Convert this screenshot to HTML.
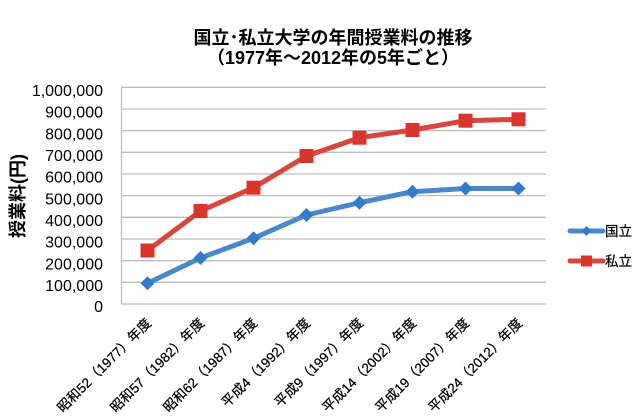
<!DOCTYPE html>
<html>
<head>
<meta charset="utf-8">
<style>
  html,body{margin:0;padding:0;background:#fff;}
  body{width:640px;height:420px;overflow:hidden;}
  svg{display:block;}
  text{font-family:"Liberation Sans","Noto Sans CJK JP",sans-serif;fill:#000;}
</style>
</head>
<body>
<svg width="640" height="420" viewBox="0 0 640 420" xmlns="http://www.w3.org/2000/svg">
  <rect x="0" y="0" width="640" height="420" fill="#fff"/>

  <!-- Title -->
  <text x="333" y="44" font-size="18" font-weight="bold" text-anchor="middle">国立･私立大学の年間授業料の推移</text>
  <text x="333" y="64" font-size="18" font-weight="bold" text-anchor="middle">（1977年～2012年の5年ごと）</text>

  <!-- Gridlines -->
  <g stroke="#bdbdbd" stroke-width="1.3">
    <line x1="121" y1="87.3" x2="546" y2="87.3"/>
    <line x1="121" y1="109" x2="546" y2="109"/>
    <line x1="121" y1="130.6" x2="546" y2="130.6"/>
    <line x1="121" y1="152.3" x2="546" y2="152.3"/>
    <line x1="121" y1="174" x2="546" y2="174"/>
    <line x1="121" y1="195.6" x2="546" y2="195.6"/>
    <line x1="121" y1="217.3" x2="546" y2="217.3"/>
    <line x1="121" y1="239" x2="546" y2="239"/>
    <line x1="121" y1="260.7" x2="546" y2="260.7"/>
    <line x1="121" y1="282.3" x2="546" y2="282.3"/>
    <line x1="121" y1="304" x2="546" y2="304"/>
    <line x1="121.5" y1="87.3" x2="121.5" y2="304"/>
  </g>

  <!-- Y labels -->
  <g font-size="16" text-anchor="end">
    <text x="103" y="96">1,000,000</text>
    <text x="103" y="117.7">900,000</text>
    <text x="103" y="139.3">800,000</text>
    <text x="103" y="161">700,000</text>
    <text x="103" y="182.7">600,000</text>
    <text x="103" y="204.3">500,000</text>
    <text x="103" y="226">400,000</text>
    <text x="103" y="247.7">300,000</text>
    <text x="103" y="269.4">200,000</text>
    <text x="103" y="291">100,000</text>
    <text x="103" y="312.2">0</text>
  </g>

  <!-- Y axis title -->
  <text transform="translate(24,196) rotate(-90)" font-size="18" font-weight="bold" text-anchor="middle">授業料(円)</text>

  <!-- X labels -->
  <g font-size="13.5" text-anchor="end" stroke="#000" stroke-width="0.25">
    <text transform="translate(152,324) rotate(-45)">昭和52（1977）年度</text>
    <text transform="translate(205,324) rotate(-45)">昭和57（1982）年度</text>
    <text transform="translate(258,324) rotate(-45)">昭和62（1987）年度</text>
    <text transform="translate(311,324) rotate(-45)">平成4（1992）年度</text>
    <text transform="translate(364,324) rotate(-45)">平成9（1997）年度</text>
    <text transform="translate(417,324) rotate(-45)">平成14（2002）年度</text>
    <text transform="translate(470,324) rotate(-45)">平成19（2007）年度</text>
    <text transform="translate(523,324) rotate(-45)">平成24（2012）年度</text>
  </g>

  <!-- Private series (red) -->
  <polyline fill="none" stroke="#d8463e" stroke-width="5" stroke-linejoin="round"
    points="147.5,250.5 200.5,211 253.5,187.7 306.5,156 359.5,137.7 412.5,130 465.5,120.7 518.5,119.3"/>
  <g fill="#d9352c">
    <rect x="140.5" y="243.5" width="14" height="14"/>
    <rect x="193.5" y="204" width="14" height="14"/>
    <rect x="246.5" y="180.7" width="14" height="14"/>
    <rect x="299.5" y="149" width="14" height="14"/>
    <rect x="352.5" y="130.7" width="14" height="14"/>
    <rect x="405.5" y="123" width="14" height="14"/>
    <rect x="458.5" y="113.7" width="14" height="14"/>
    <rect x="511.5" y="112.3" width="14" height="14"/>
  </g>

  <!-- National series (blue) -->
  <polyline fill="none" stroke="#4a88c8" stroke-width="5" stroke-linejoin="round"
    points="147.5,283.3 200.5,258 253.5,238.3 306.5,215 359.5,202.7 412.5,191.7 465.5,188.5 518.5,188.5"/>
  <g fill="#347acb">
    <polygon points="147.5,276.3 154.5,283.3 147.5,290.3 140.5,283.3"/>
    <polygon points="200.5,251 207.5,258 200.5,265 193.5,258"/>
    <polygon points="253.5,231.3 260.5,238.3 253.5,245.3 246.5,238.3"/>
    <polygon points="306.5,208 313.5,215 306.5,222 299.5,215"/>
    <polygon points="359.5,195.7 366.5,202.7 359.5,209.7 352.5,202.7"/>
    <polygon points="412.5,184.7 419.5,191.7 412.5,198.7 405.5,191.7"/>
    <polygon points="465.5,181.5 472.5,188.5 465.5,195.5 458.5,188.5"/>
    <polygon points="518.5,181.5 525.5,188.5 518.5,195.5 511.5,188.5"/>
  </g>

  <!-- Legend -->
  <line x1="570" y1="231" x2="603" y2="231" stroke="#4a88c8" stroke-width="5" stroke-linecap="round"/>
  <polygon points="586.5,226 591.5,231 586.5,236 581.5,231" fill="#347acb"/>
  <text x="605" y="236" font-size="13.5" stroke="#000" stroke-width="0.25">国立</text>

  <line x1="570" y1="261" x2="603" y2="261" stroke="#d8463e" stroke-width="5" stroke-linecap="round"/>
  <rect x="581" y="255.5" width="11" height="11" fill="#d9352c"/>
  <text x="605" y="266" font-size="13.5" stroke="#000" stroke-width="0.25">私立</text>
</svg>
</body>
</html>
